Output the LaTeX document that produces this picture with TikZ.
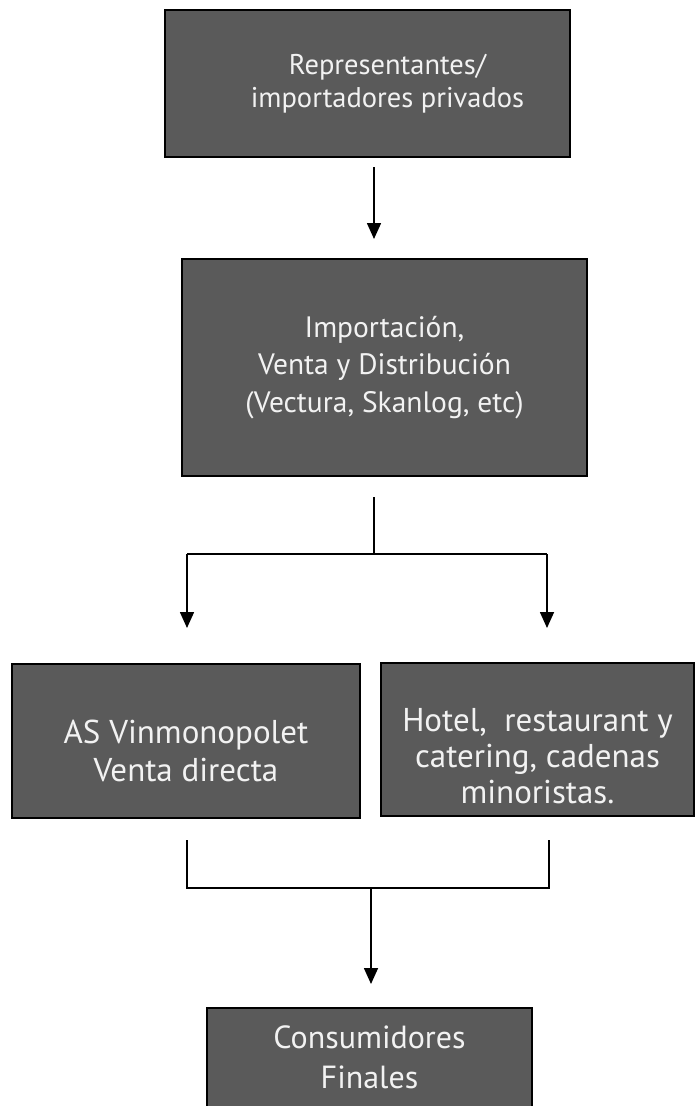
\documentclass[tikz,border=0pt]{standalone}
\usepackage{fontspec}
\setmainfont{PT Sans}
\usetikzlibrary{arrows.meta}
\definecolor{boxfill}{HTML}{5A5A5A}
\definecolor{boxtext}{HTML}{F2F2F2}
\tikzset{
  box/.style={draw=black, line width=2pt, fill=boxfill, inner sep=0pt},
  boxtxt/.style={text=boxtext, align=center, inner sep=0pt},
  conn/.style={line width=1.6pt, draw=black},
  arr/.style={conn, -{Triangle[width=14pt,length=16pt]}}
}
\begin{document}
\begin{tikzpicture}[x=1pt,y=-1pt]
\useasboundingbox (0,0) rectangle (694,1106);
\node[box, minimum width=405, minimum height=147] (b1) at (367.5,83.5) {};
\node[box, minimum width=405, minimum height=217] (b2) at (384.5,367.5) {};
\node[box, minimum width=348, minimum height=154] (b3) at (186,741) {};
\node[box, minimum width=313, minimum height=153] (b4) at (537.5,739.5) {};
\node[box, minimum width=325, minimum height=110] (b5) at (369.5,1063) {};
\node[boxtxt, font=\fontsize{28.5}{33}\selectfont] (t1) at ([xshift=20pt]b1.center) {Representantes/\\importadores privados};
\node[boxtxt, font=\fontsize{29.5}{37.5}\selectfont] (t2) at (b2.center) {Importación,\\ Venta y Distribución\\(Vectura, Skanlog, etc)};
\node[boxtxt, font=\fontsize{33}{38}\selectfont] (t3) at ([yshift=-10pt]b3.center) {AS Vinmonopolet\\Venta directa};
\node[boxtxt, font=\fontsize{33}{36}\selectfont] (t4) at ([yshift=-17pt]b4.center) {Hotel,\ \ restaurant y\\catering, cadenas\\minoristas.};
\node[boxtxt, font=\fontsize{32}{40}\selectfont] (t5) at ([yshift=6pt]b5.center) {Consumidores\\Finales};
% connectors
\coordinate (a1s) at (374,167);
\coordinate (a1e) at (374,239);
\draw[arr] (a1s) -- (a1e);
\coordinate (s2) at (374,497);
\coordinate (j2) at (374,554);
\coordinate (l2) at (187,554);
\coordinate (r2) at (547,554);
\coordinate (l2e) at (187,628);
\coordinate (r2e) at (547,628);
\draw[conn] (s2) -- (j2);
\draw[conn] (l2) -- (r2);
\draw[arr] (l2) -- (l2e);
\draw[arr] (r2) -- (r2e);
\coordinate (l3s) at (187,840);
\coordinate (l3e) at (187,888);
\coordinate (r3s) at (549,840);
\coordinate (r3e) at (549,888);
\coordinate (j3) at (371,888);
\coordinate (a3e) at (371,984);
\draw[conn] (l3s) -- (l3e) -- (r3e) -- (r3s);
\draw[arr] (j3) -- (a3e);
\end{tikzpicture}
\end{document}
